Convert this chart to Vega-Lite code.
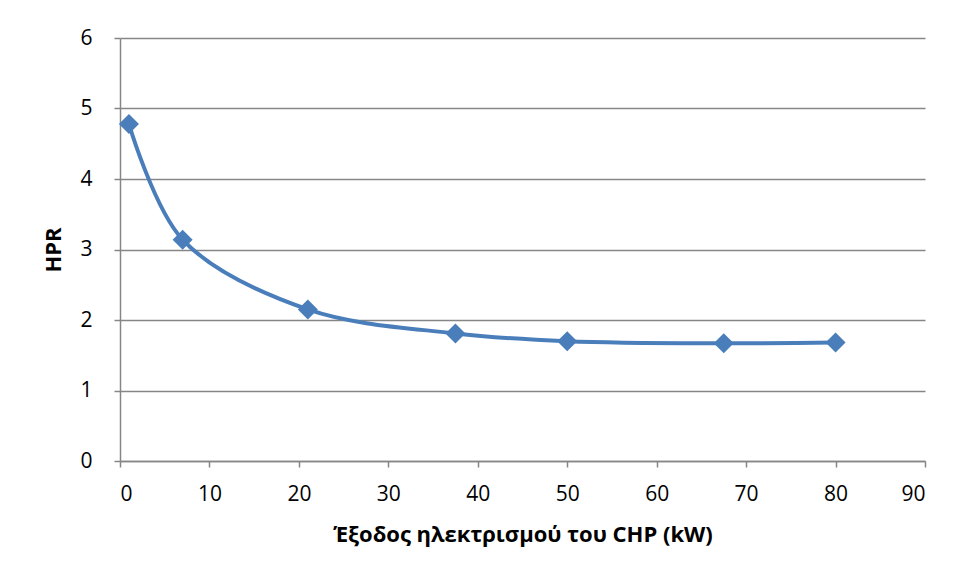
{
  "$schema": "https://vega.github.io/schema/vega-lite/v6.json",
  "width": 805,
  "height": 423,
  "autosize": {"type": "none"},
  "padding": {"left": 120, "top": 38, "right": 30, "bottom": 117},
  "background": "white",
  "config": {
    "view": {"stroke": null},
    "font": "Open Sans"
  },
  "data": {
    "values": [
      {"x": 1, "hpr": 4.78},
      {"x": 7, "hpr": 3.14},
      {"x": 21, "hpr": 2.15},
      {"x": 37.5, "hpr": 1.81},
      {"x": 50, "hpr": 1.70},
      {"x": 67.5, "hpr": 1.67},
      {"x": 80, "hpr": 1.68}
    ]
  },
  "encoding": {
    "x": {
      "field": "x", "type": "quantitative",
      "scale": {"domain": [0, 90], "nice": false, "zero": true},
      "axis": {
        "title": "Έξοδος ηλεκτρισμού του CHP (kW)",
        "values": [0, 10, 20, 30, 40, 50, 60, 70, 80, 90],
        "grid": false,
        "domainColor": "#868686", "domainWidth": 1.5,
        "tickColor": "#868686", "tickWidth": 1.5, "tickSize": 6,
        "labelFontSize": 21, "labelColor": "#000000", "labelPadding": 16,
        "titleFontSize": 22, "titleFontWeight": "bold", "titleColor": "#000000",
        "titlePadding": 20
      }
    },
    "y": {
      "field": "hpr", "type": "quantitative",
      "scale": {"domain": [0, 6], "nice": false},
      "axis": {
        "title": "HPR",
        "values": [0, 1, 2, 3, 4, 5, 6],
        "grid": true, "gridColor": "#868686", "gridWidth": 1.5,
        "domainColor": "#868686", "domainWidth": 1.5,
        "tickColor": "#868686", "tickWidth": 1.5, "tickSize": 6,
        "labelFontSize": 21, "labelColor": "#000000", "labelPadding": 22,
        "titleFontSize": 22, "titleFontWeight": "bold", "titleColor": "#000000",
        "titlePadding": 14
      }
    }
  },
  "layer": [
    {"mark": {"type": "line", "interpolate": "catmull-rom", "color": "#4A7EBB", "strokeWidth": 4}},
    {"mark": {"type": "point", "shape": "diamond", "filled": true, "opacity": 1, "color": "#4A7EBB", "size": 400}}
  ]
}
